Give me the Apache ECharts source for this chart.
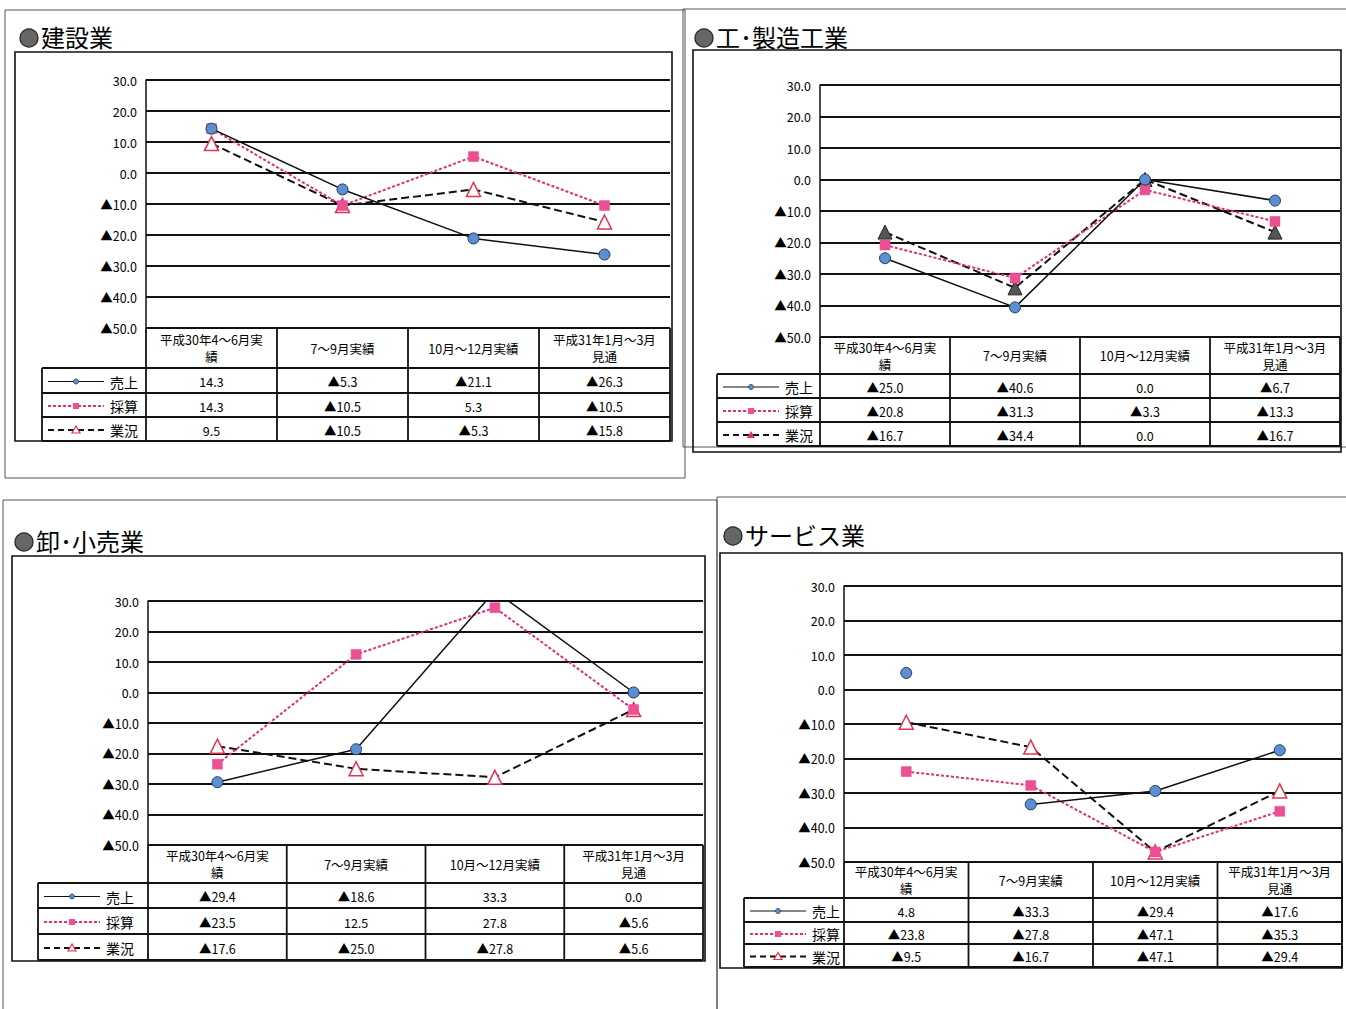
<!DOCTYPE html>
<html><head><meta charset="utf-8">
<script src="https://cdn.jsdelivr.net/npm/echarts/dist/echarts.min.js"></script>
<style>html,body{margin:0;padding:0;background:#fff}#c{width:1346px;height:1009px}</style>
</head><body><div id="c"></div>
<script>
// ---------- data ----------
const categories = ['平成30年4～6月実\n績', '7～9月実績', '10月～12月実績', '平成31年1月～3月\n見通'];
const seriesNames = ['売上', '採算', '業況'];
const yMin = -50, yMax = 30, yStep = 10;

const constructionSales     = [14.3, -5.3, -21.1, -26.3];
const constructionProfit    = [14.3, -10.5, 5.3, -10.5];
const constructionCondition = [9.5, -10.5, -5.3, -15.8];

const manufacturingSales     = [-25.0, -40.6, 0.0, -6.7];
const manufacturingProfit    = [-20.8, -31.3, -3.3, -13.3];
const manufacturingCondition = [-16.7, -34.4, 0.0, -16.7];

const retailSales     = [-29.4, -18.6, 33.3, 0.0];
const retailProfit    = [-23.5, 12.5, 27.8, -5.6];
const retailCondition = [-17.6, -25.0, -27.8, -5.6];

const serviceSales     = [4.8, -33.3, -29.4, -17.6];
const serviceProfit    = [-23.8, -27.8, -47.1, -35.3];
const serviceCondition = [-9.5, -16.7, -47.1, -29.4];
const serviceSalesGapAfter = 0; // no connecting segment after this index in the reference

// ---------- layout ----------
const panels = [
  {title: '建設業', data: [constructionSales, constructionProfit, constructionCondition], gap: -1, filledTri: false,
   outer: [5, 10, 685, 478], inner: [15, 52, 672, 441], tx: 20, ty: 36,
   plot: [146, 80, 670, 328], legendLeft: 42, rows: [368, 393, 417, 441]},
  {title: '工･製造工業', data: [manufacturingSales, manufacturingProfit, manufacturingCondition], gap: -1, filledTri: true,
   outer: [683, 9, 1352, 447], inner: [693, 50, 1341, 452], tx: 695, ty: 36,
   plot: [820, 85, 1340, 337], legendLeft: 717, rows: [374, 398, 422, 446]},
  {title: '卸･小売業', data: [retailSales, retailProfit, retailCondition], gap: -1, filledTri: false,
   outer: [3, 500, 717, 1015], inner: [12, 556, 705, 961], tx: 15, ty: 540,
   plot: [148, 601, 703, 845], legendLeft: 38, rows: [883, 908, 934, 960]},
  {title: 'サービス業', data: [serviceSales, serviceProfit, serviceCondition], gap: serviceSalesGapAfter, filledTri: false,
   outer: [717, 497, 1352, 1015], inner: [720, 553, 1342, 968], tx: 724, ty: 534,
   plot: [844, 586, 1342, 862], legendLeft: 744, rows: [898, 922, 944, 967]}
];

const FONT = '"Noto Sans CJK JP", "Noto Sans", sans-serif';
const C_BLUE = '#5b8fd4', C_PINK = '#ec4f93', C_PINKLINE = '#de2f78', C_RED = '#e23350';

function fmt(v) {
  if (v < 0) return '▲' + Math.abs(v).toFixed(1);
  return v.toFixed(1);
}

const grids = [], xAxes = [], yAxes = [], series = [], graphics = [];

function gLine(x1, y1, x2, y2, w, color, dash) {
  graphics.push({type: 'line', silent: true, z: 50, shape: {x1, y1, x2, y2},
    style: {stroke: color || '#111', lineWidth: w || 1.5, lineDash: dash || null}});
}
function gRect(x1, y1, x2, y2, w, color) {
  graphics.push({type: 'rect', silent: true, z: 50, shape: {x: x1, y: y1, width: x2 - x1, height: y2 - y1},
    style: {fill: 'none', stroke: color, lineWidth: w}});
}
function gText(text, x, y, size, align, lh) {
  graphics.push({type: 'text', silent: true, z: 60,
    style: {text, x, y, fontSize: size, fontFamily: FONT, fill: '#000',
      align: align || 'center', verticalAlign: 'middle', textAlign: align || 'center', textVerticalAlign: 'middle',
      lineHeight: lh || Math.round(size * 1.3)}});
}

const seriesStyles = (filledTri) => [
  {symbol: 'circle', symbolSize: 11, line: {color: '#111', width: 1.5, type: 'solid'},
   item: {color: C_BLUE, borderColor: '#2a3a55', borderWidth: 1}},
  {symbol: 'rect', symbolSize: 10, line: {color: C_PINKLINE, width: 2, type: [3, 2]},
   item: {color: C_PINK, borderColor: C_PINK, borderWidth: 0.5}},
  {symbol: 'triangle', symbolSize: 14, line: {color: '#111', width: 2, type: [8, 4]},
   item: filledTri ? {color: '#555', borderColor: '#222', borderWidth: 1}
                   : {color: '#fff', borderColor: C_RED, borderWidth: 1.5}}
];

panels.forEach((p, gi) => {
  const [L, T, R, B] = p.plot;
  grids.push({left: L, top: T, width: R - L, height: B - T, containLabel: false});
  xAxes.push({type: 'category', gridIndex: gi, data: categories, boundaryGap: true,
    axisLine: {show: false}, axisTick: {show: false}, axisLabel: {show: false}, splitLine: {show: false}});
  yAxes.push({type: 'value', gridIndex: gi, min: yMin, max: yMax, interval: yStep,
    axisLine: {show: true, lineStyle: {color: '#111', width: 1.5}}, axisTick: {show: false},
    splitLine: {show: true, lineStyle: {color: '#111', width: 2}},
    axisLabel: {formatter: fmt, fontSize: 12.5, color: '#000', fontFamily: FONT, margin: 9}});

  const styles = seriesStyles(p.filledTri);
  p.data.forEach((arr, si) => {
    const st = styles[si];
    const base = {type: 'line', xAxisIndex: gi, yAxisIndex: gi, symbol: st.symbol, symbolSize: st.symbolSize,
      showAllSymbol: true, lineStyle: st.line, itemStyle: st.item, z: si === 0 ? 5 : (si === 1 ? 4 : 3),
      emphasis: {disabled: true}, animation: false};
    if (si === 0 && p.gap >= 0) {
      series.push(Object.assign({}, base, {name: seriesNames[si], data: arr.map((v, i) => i > p.gap ? v : '-')}));
      series.push(Object.assign({}, base, {name: seriesNames[si] + '_', data: arr.map((v, i) => i <= p.gap ? v : '-')}));
    } else {
      series.push(Object.assign({}, base, {name: seriesNames[si], data: arr.slice()}));
    }
  });

  // outer frame and inner chart box
  gRect(p.outer[0], p.outer[1], p.outer[2], p.outer[3], 1, '#555');
  gRect(p.inner[0], p.inner[1], p.inner[2], p.inner[3], 1.6, '#111');

  // title
  graphics.push({type: 'circle', silent: true, z: 60, shape: {cx: p.tx + 9, cy: p.ty + 2, r: 9},
    style: {fill: '#666', stroke: '#222', lineWidth: 1.2}});
  gText(p.title, p.tx + 21, p.ty, 24, 'left', 28);

  // table
  const colW = (R - L) / categories.length;
  const rowsTop = [B].concat(p.rows);
  gLine(L, B, L, p.rows[3], 1.8);
  gLine(R, B, R, p.rows[3], 1.8);
  for (let c = 1; c < categories.length; c++) gLine(L + c * colW, B, L + c * colW, p.rows[3], 1.8);
  gLine(p.legendLeft, p.rows[0], p.legendLeft, p.rows[3], 1.8);
  p.rows.forEach(y => gLine(p.legendLeft, y, R, y, 1.8));
  // header
  categories.forEach((c, i) => gText(c, L + (i + 0.5) * colW, (B + p.rows[0]) / 2, 12.5, 'center', 17));
  // rows
  for (let r = 0; r < 3; r++) {
    const cy = (rowsTop[r + 1] + rowsTop[r + 2]) / 2 + 1;
    const lx = p.legendLeft;
    const lineDash = r === 0 ? null : (r === 1 ? [3, 2] : [6, 4]);
    gLine(lx + 6, cy, lx + 62, cy, r === 0 ? 1.2 : 1.8, r === 1 ? C_PINKLINE : '#111', lineDash);
    if (r === 0) graphics.push({type: 'circle', silent: true, z: 61, shape: {cx: lx + 34, cy, r: 2.5},
      style: {fill: C_BLUE, stroke: '#2a3a55', lineWidth: 0.8}});
    if (r === 1) graphics.push({type: 'rect', silent: true, z: 61, shape: {x: lx + 31, y: cy - 3, width: 6, height: 6},
      style: {fill: C_PINK}});
    if (r === 2) graphics.push({type: 'polygon', silent: true, z: 61,
      shape: {points: [[lx + 34, cy - 4], [lx + 30, cy + 3], [lx + 38, cy + 3]]},
      style: p.filledTri ? {fill: C_RED} : {fill: '#fff', stroke: C_RED, lineWidth: 1.2}});
    gText(seriesNames[r], lx + 82, cy, 14, 'center', 18);
    p.data[r].forEach((v, i) => gText(fmt(v), L + (i + 0.5) * colW, cy, 12.5, 'center', 16));
  }
});

const chart = echarts.init(document.getElementById('c'), null, {renderer: 'svg', width: 1346, height: 1009});
chart.setOption({
  animation: false,
  backgroundColor: '#fff',
  grid: grids, xAxis: xAxes, yAxis: yAxes, series: series,
  graphic: {elements: graphics}
});
</script></body></html>
